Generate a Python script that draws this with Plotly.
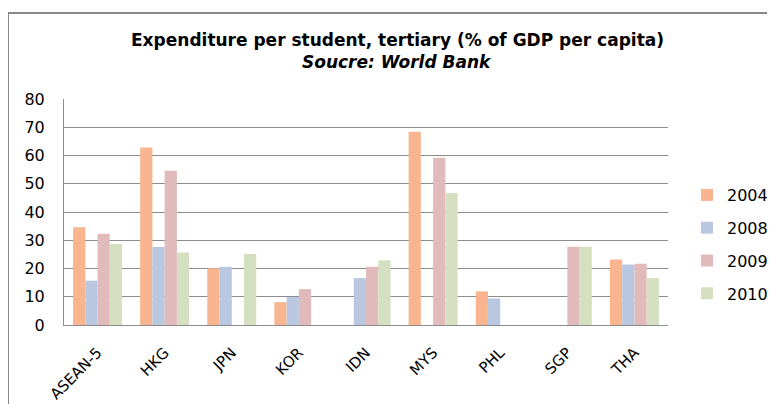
import plotly.graph_objects as go

categories = ["ASEAN-5", "HKG", "JPN", "KOR", "IDN", "MYS", "PHL", "SGP", "THA"]
years = ["2004", "2008", "2009", "2010"]
v2004 = [34.6, 62.8, 20.1, 8.1, None, 68.4, 11.9, None, 23.2]
v2008 = [15.7, 27.6, 20.6, 9.9, 16.6, None, 9.4, None, 21.4]
v2009 = [32.3, 54.6, None, 12.7, 20.6, 59.2, None, 27.7, 21.7]
v2010 = [28.7, 25.7, 25.1, None, 22.9, 46.7, None, 27.7, 16.6]
series = [v2004, v2008, v2009, v2010]
colors = ["#F9B58F", "#B9C7E1", "#E1BBBB", "#D4E0C0"]

title = "Expenditure per student, tertiary (% of GDP per capita)"
subtitle = "Soucre: World Bank"

FONT = "DejaVu Sans"
OFF = 8  # page body margin in the browser
W, H = 775 - OFF, 404 - OFF
# plot area in reference page pixels: x 64..668, y 99..325
PL, PR, PT, PB = 64, 668, 99, 325
L, R, T, B = PL - OFF, W - (PR - OFF), PT - OFF, H - (PB - OFF)
pw, ph = PR - PL, PB - PT

def px(x):
    return (x - PL) / pw

def py(y):
    return (PB - y) / ph

fig = go.Figure()
for yr, vals, c in zip(years, series, colors):
    fig.add_trace(go.Bar(
        x=categories, y=vals, name=yr, marker=dict(color=c, line=dict(width=0)),
        legendgroup=yr,
    ))

fig.update_layout(
    width=W, height=H,
    margin=dict(l=L, r=R, t=T, b=B, pad=0, autoexpand=False),
    paper_bgcolor="white", plot_bgcolor="white",
    barmode="group", bargap=0.27, bargroupgap=0,
    font=dict(family=FONT, color="black"),
    showlegend=True,
    legend=dict(x=px(687), y=py(178), xanchor="left", yanchor="top",
                font=dict(size=16, family=FONT, color="black"), tracegroupgap=9,
                bgcolor="rgba(0,0,0,0)", itemwidth=30),
    xaxis=dict(showgrid=False, showline=True, linecolor="#8C8C8C", linewidth=1,
               ticks="", tickangle=-45, tickfont=dict(size=15, family=FONT, color="black"),
               automargin=False, ticklabelstandoff=12),
    yaxis=dict(range=[0, 80], dtick=10, showgrid=True, gridcolor="#8C8C8C", gridwidth=1,
               showline=True, linecolor="#8C8C8C", linewidth=1, ticks="", zeroline=False,
               tickfont=dict(size=16, family=FONT, color="black"), ticklabelstandoff=15,
               automargin=False),
    annotations=[
        dict(text="<b>" + title + "</b>", x=px(397), y=py(40), xref="paper", yref="paper",
             showarrow=False, xanchor="center", yanchor="middle", font=dict(size=17, family=FONT)),
        dict(text="<b><i>" + subtitle + "</i></b>", x=px(397), y=py(62), xref="paper", yref="paper",
             showarrow=False, xanchor="center", yanchor="middle", font=dict(size=17, family=FONT)),
    ],
    shapes=[
        dict(type="line", xref="paper", yref="paper", x0=px(8), x1=px(800), y0=py(13), y1=py(13),
             line=dict(color="#888888", width=2)),
        dict(type="line", xref="paper", yref="paper", x0=px(8), x1=px(8), y0=py(12), y1=py(420),
             line=dict(color="#888888", width=2)),
    ],
)

fig.write_html("out.html")
